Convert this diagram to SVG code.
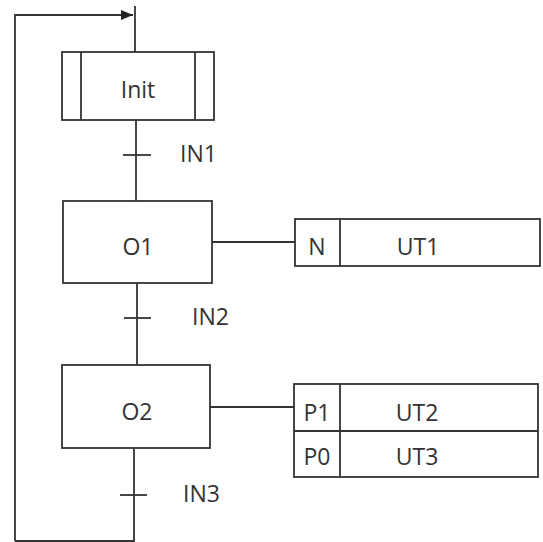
<svg xmlns="http://www.w3.org/2000/svg" width="543" height="542" viewBox="0 0 543 542">
<style>
.box{fill:#fff;stroke:#333;stroke-width:1.8}
.ln{fill:none;stroke:#333;stroke-width:1.8}
.t{font-family:"Open Sans","Liberation Sans",sans-serif;font-size:23px;fill:#333;text-anchor:middle}
.ts{font-family:"Open Sans","Liberation Sans",sans-serif;font-size:23px;fill:#333;text-anchor:start}
</style>
<defs>
<marker id="ah" markerWidth="12" markerHeight="10" refX="12" refY="5" orient="auto" markerUnits="userSpaceOnUse">
<path d="M0,0 L12,5 L0,10 Z" fill="#222"/>
</marker>
</defs>
<rect width="543" height="542" fill="#fff"/>
<g id="connectors">
<path class="ln" d="M15,541 L15,15 L133,15" marker-end="url(#ah)"/>
<path class="ln" d="M135,6 L135,52"/>
<path class="ln" d="M136,120 L136,201"/>
<path class="ln" d="M123,155 L151,155"/>
<text class="ts" x="180" y="162">IN1</text>
<path class="ln" d="M137,283 L137,365"/>
<path class="ln" d="M124,318 L151,318"/>
<text class="ts" x="192" y="325">IN2</text>
<path class="ln" d="M134,448 L134,541 L15,541"/>
<path class="ln" d="M120,495 L147,495"/>
<text class="ts" x="183" y="502">IN3</text>
<path class="ln" d="M212,242 L295,242"/>
<path class="ln" d="M210,407 L294,407"/>
</g>
<g id="init">
<rect class="box" x="62" y="52" width="152" height="68"/>
<path class="ln" d="M81,52 L81,120 M195,52 L195,120"/>
<text class="t" x="138" y="98">Init</text>
</g>
<g id="o1">
<rect class="box" x="63" y="201" width="149" height="82"/>
<text class="t" x="138" y="255">O1</text>
</g>
<g id="o2">
<rect class="box" x="62" y="365" width="148" height="83"/>
<text class="t" x="137" y="420">O2</text>
</g>
<g id="action1">
<rect class="box" x="295" y="219" width="245" height="47"/>
<path class="ln" d="M340,219 L340,266"/>
<text class="t" x="317" y="255">N</text>
<text class="t" x="418" y="255">UT1</text>
</g>
<g id="action2">
<rect class="box" x="294" y="384" width="244" height="93"/>
<path class="ln" d="M294,431 L538,431 M340,384 L340,477"/>
<text class="t" x="317" y="421">P1</text>
<text class="t" x="417" y="421">UT2</text>
<text class="t" x="317" y="465">P0</text>
<text class="t" x="417" y="465">UT3</text>
</g>
</svg>
